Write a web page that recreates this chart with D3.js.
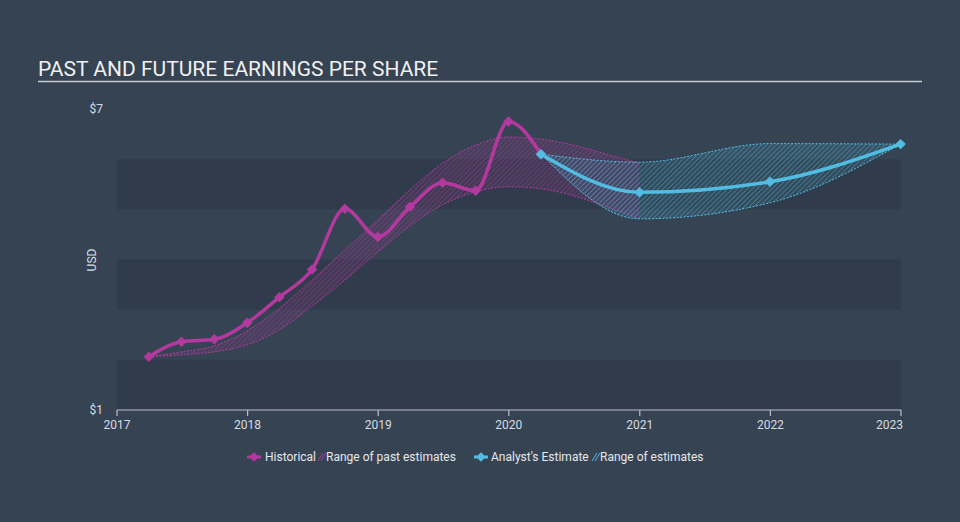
<!DOCTYPE html>
<html><head><meta charset="utf-8">
<script src="https://cdn.jsdelivr.net/npm/d3@7"></script>
<style>html,body{margin:0;padding:0;background:#354353;}svg{display:block;}</style>
</head><body>
<svg id="chart" width="960" height="522"></svg>
<script>
// ---- data ----
const histDates = ["2017-03-31","2017-06-30","2017-09-30","2017-12-31","2018-03-31","2018-06-30","2018-09-30","2018-12-31","2019-03-31","2019-06-30","2019-09-30","2019-12-31","2020-03-31"];
const histValues = [2.06, 2.36, 2.41, 2.74, 3.25, 3.80, 5.01, 4.45, 5.05, 5.53, 5.37, 6.75, 6.10];

const pastRangeDates = ["2017-03-31","2017-06-30","2017-09-30","2017-12-31","2018-03-31","2018-06-30","2018-09-30","2018-12-31","2019-03-31","2019-06-30","2019-09-30","2019-12-31","2020-03-31","2020-06-30","2020-09-30","2020-12-31"];
const pastRangeHigh = [2.06, 2.16, 2.28, 2.58, 3.03, 3.59, 4.19, 4.79, 5.39, 5.92, 6.28, 6.44, 6.40, 6.28, 6.10, 5.92];
const pastRangeLow  = [2.06, 2.10, 2.16, 2.30, 2.60, 3.07, 3.59, 4.15, 4.67, 5.09, 5.35, 5.45, 5.41, 5.27, 5.05, 4.81];

const estDates = ["2020-03-31","2020-12-31","2021-12-31","2022-12-31"];
const estValues = [6.10, 5.34, 5.55, 6.30];
const estHigh = [6.10, 5.94, 6.31, 6.30];
const estLow  = [6.10, 4.81, 5.13, 6.30];

const yearTicks = ["2017","2018","2019","2020","2021","2022","2023"];
const yTickValues = [1, 7];
const bandRanges = [[5,6],[3,4],[1,2]];

const title = "PAST AND FUTURE EARNINGS PER SHARE";
const yAxisLabel = "USD";
const legendItems = ["Historical","Range of past estimates","Analyst's Estimate","Range of estimates"];

// ---- style ----
const MAG = "#b3399f", BLUE = "#52bde2";
const svg = d3.select("#chart");
const W = 960, H = 522;
const mLeft = 117, mRight = 901, mTop = 109, mBottom = 410;
const parse = d3.utcParse("%Y-%m-%d");

const x = d3.scaleUtc().domain([new Date(Date.UTC(2017,0,1)), new Date(Date.UTC(2023,0,1))]).range([mLeft, mRight]);
const y = d3.scaleLinear().domain([1, 7]).range([mBottom, mTop]);

svg.append("rect").attr("width", W).attr("height", H).attr("fill", "#354353");

// bands
svg.append("g").selectAll("rect").data(bandRanges).join("rect")
  .attr("x", mLeft).attr("width", mRight - mLeft)
  .attr("y", d => y(d[1])).attr("height", d => y(d[0]) - y(d[1]))
  .attr("fill", "#303c4b");

// title
svg.append("text").attr("x", 38).attr("y", 76).text(title)
  .attr("font-family", "Roboto, sans-serif").attr("font-size", 21).attr("fill", "#f0f0f0");
svg.append("line").attr("x1", 38).attr("x2", 922).attr("y1", 81.5).attr("y2", 81.5)
  .attr("stroke", "#c8ccd1").attr("stroke-width", 1.5);

// patterns
const defs = svg.append("defs");
function hatch(id, color) {
  const p = defs.append("pattern").attr("id", id).attr("patternUnits", "userSpaceOnUse")
    .attr("width", 3.5).attr("height", 3.5).attr("patternTransform", "rotate(45)");
  p.append("line").attr("x1", 0).attr("y1", 0).attr("x2", 0).attr("y2", 3.5)
    .attr("stroke", color).attr("stroke-width", 1).attr("stroke-opacity", 0.75);
}
hatch("hPast", MAG);
hatch("hEst", BLUE);

const pastRange = pastRangeDates.map((d, i) => ({d: parse(d), lo: pastRangeLow[i], hi: pastRangeHigh[i]}));
const estRange = estDates.map((d, i) => ({d: parse(d), lo: estLow[i], hi: estHigh[i]}));
const hist = histDates.map((d, i) => ({d: parse(d), v: histValues[i]}));
const est = estDates.map((d, i) => ({d: parse(d), v: estValues[i]}));

const area = d3.area().x(d => x(d.d)).y0(d => y(d.lo)).y1(d => y(d.hi)).curve(d3.curveMonotoneX);
const lineHi = d3.line().x(d => x(d.d)).y(d => y(d.hi)).curve(d3.curveMonotoneX);
const lineLo = d3.line().x(d => x(d.d)).y(d => y(d.lo)).curve(d3.curveMonotoneX);
const line = d3.line().x(d => x(d.d)).y(d => y(d.v)).curve(d3.curveMonotoneX);

function band(data, color, pid) {
  const g = svg.append("g");
  g.append("path").datum(data).attr("d", area).attr("fill", color).attr("fill-opacity", 0.12);
  g.append("path").datum(data).attr("d", area).attr("fill", `url(#${pid})`);
  [lineHi, lineLo].forEach(l => g.append("path").datum(data).attr("d", l)
    .attr("fill", "none").attr("stroke", color).attr("stroke-width", 1).attr("stroke-dasharray", "2,1.5"));
}
band(pastRange, MAG, "hPast");
band(estRange, BLUE, "hEst");

// axis
const xAxis = svg.append("g").attr("transform", `translate(0,${mBottom})`);
xAxis.append("line").attr("x1", mLeft).attr("x2", mRight).attr("stroke", "#b9c0c8").attr("stroke-width", 1.2);
const tickDates = yearTicks.map(t => new Date(Date.UTC(+t, 0, 1)));
xAxis.selectAll("line.tick").data(tickDates).join("line").attr("class", "tick")
  .attr("x1", d => x(d)).attr("x2", d => x(d)).attr("y1", 0).attr("y2", 6)
  .attr("stroke", "#b9c0c8").attr("stroke-width", 1.2);
xAxis.selectAll("text").data(yearTicks).join("text")
  .attr("x", (d, i) => i === yearTicks.length - 1 ? x(tickDates[i]) + 2 : x(tickDates[i]))
  .attr("y", 19)
  .attr("text-anchor", (d, i) => i === yearTicks.length - 1 ? "end" : "middle")
  .attr("font-family", "Roboto, sans-serif").attr("font-size", 12).attr("fill", "#d8dce0")
  .text(d => d);

// y labels
svg.selectAll("text.ylab").data(yTickValues).join("text").attr("class", "ylab")
  .attr("x", 103).attr("y", d => y(d) + 4).attr("text-anchor", "end")
  .attr("font-family", "Roboto, sans-serif").attr("font-size", 12).attr("fill", "#d8dce0")
  .text(d => "$" + d);
svg.append("text").attr("transform", "translate(96,260) rotate(-90)").attr("text-anchor", "middle")
  .attr("font-family", "Roboto, sans-serif").attr("font-size", 12).attr("fill", "#d8dce0").text(yAxisLabel);

// lines
svg.append("path").datum(hist).attr("d", line).attr("fill", "none").attr("stroke", MAG).attr("stroke-width", 3.5);
svg.append("path").datum(est).attr("d", line).attr("fill", "none").attr("stroke", BLUE).attr("stroke-width", 3.5);

const diamond = d3.symbol().type(d3.symbolDiamond2).size(70);
svg.append("g").selectAll("path").data(hist).join("path")
  .attr("transform", d => `translate(${x(d.d)},${y(d.v)})`).attr("d", diamond).attr("fill", MAG);
svg.append("g").selectAll("path").data(est).join("path")
  .attr("transform", d => `translate(${x(d.d)},${y(d.v)})`).attr("d", diamond).attr("fill", BLUE);

// legend
const lg = svg.append("g").attr("font-family", "Roboto, sans-serif").attr("font-size", 12).attr("fill", "#e6e8ea");
const ly = 457;
function legendMarker(cx, color) {
  lg.append("line").attr("x1", cx - 7).attr("x2", cx + 7).attr("y1", ly).attr("y2", ly).attr("stroke", color).attr("stroke-width", 3);
  lg.append("path").attr("transform", `translate(${cx},${ly})`).attr("d", d3.symbol().type(d3.symbolDiamond2).size(60)).attr("fill", color);
}
function legendHatch(x0, color) {
  [0, 3].forEach(o => lg.append("line").attr("x1", x0 + o).attr("y1", ly + 4).attr("x2", x0 + o + 5).attr("y2", ly - 4)
    .attr("stroke", color).attr("stroke-width", 1));
}
legendMarker(254, MAG);
lg.append("text").attr("x", 265).attr("y", ly + 4).text(legendItems[0]);
legendHatch(318, MAG);
lg.append("text").attr("x", 326).attr("y", ly + 4).text(legendItems[1]);
legendMarker(481, BLUE);
lg.append("text").attr("x", 491).attr("y", ly + 4).text(legendItems[2]);
legendHatch(592, BLUE);
lg.append("text").attr("x", 600).attr("y", ly + 4).text(legendItems[3]);
</script>
</body></html>
